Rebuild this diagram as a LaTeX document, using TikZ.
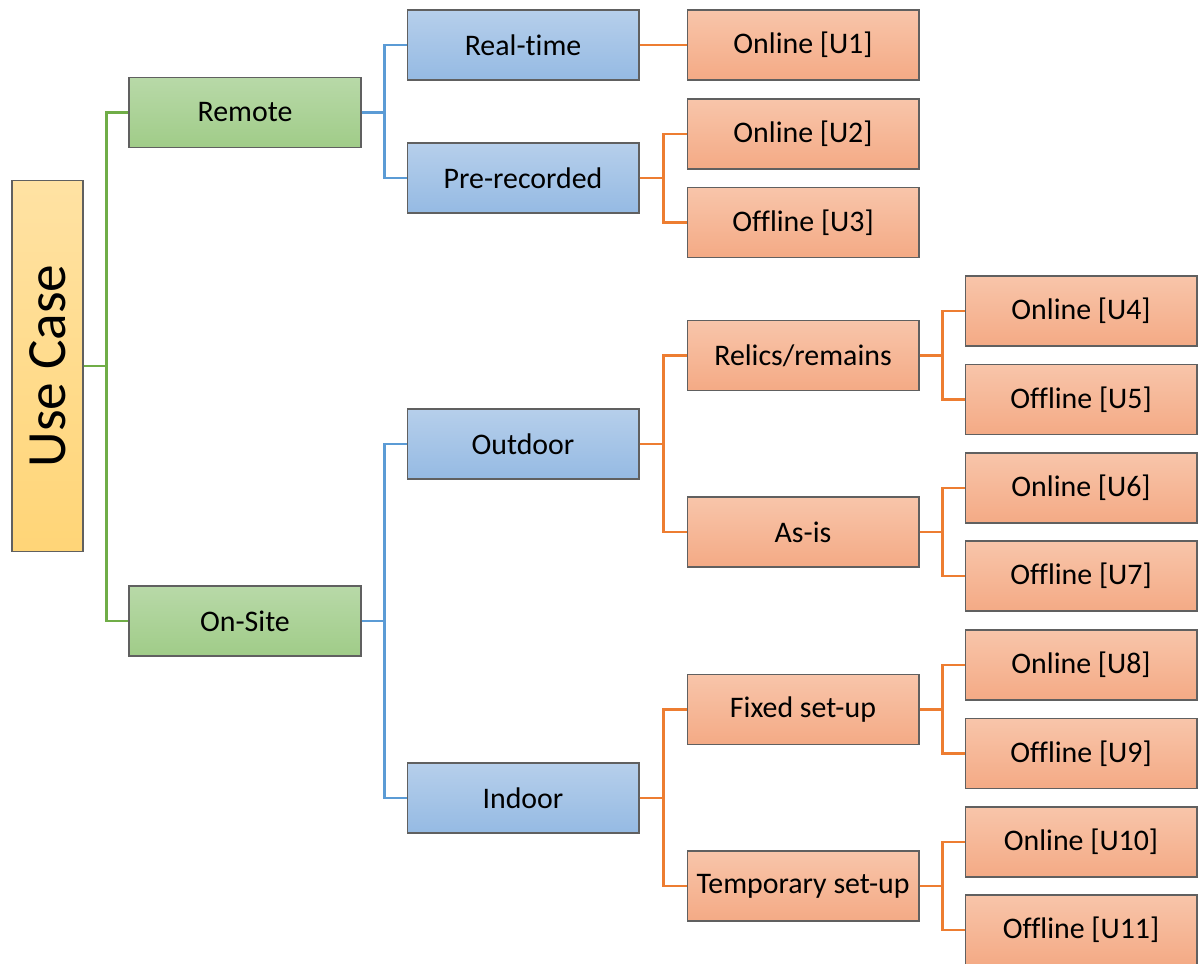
\documentclass[tikz,border=0pt]{standalone}
\usepackage{fontspec}
\setmainfont[Ligatures={NoCommon}]{Carlito}
\begin{document}
\definecolor{grnTop}{HTML}{B8D9A8}
\definecolor{grnBot}{HTML}{A0CC88}
\definecolor{grnLine}{HTML}{70AD47}
\definecolor{bluTop}{HTML}{B6CFEB}
\definecolor{bluBot}{HTML}{95BAE3}
\definecolor{bluLine}{HTML}{5B9BD5}
\definecolor{orgTop}{HTML}{F8C5AA}
\definecolor{orgBot}{HTML}{F4AA85}
\definecolor{orgLine}{HTML}{ED7D31}
\definecolor{ylwTop}{HTML}{FFE2A3}
\definecolor{ylwBot}{HTML}{FFD577}
\definecolor{boxEdge}{HTML}{606060}
\begin{tikzpicture}[x=0.02cm, y=-0.02cm,
  box/.style={draw=boxEdge, line width=0.6pt, minimum width=4.64cm, minimum height=1.4cm,
    inner sep=0pt, font=\fontsize{17}{20}\selectfont, anchor=center},
  gbox/.style={box, top color=grnTop, bottom color=grnBot},
  bbox/.style={box, top color=bluTop, bottom color=bluBot},
  obox/.style={box, top color=orgTop, bottom color=orgBot},
  ybox/.style={draw=boxEdge, line width=0.6pt, minimum width=1.42cm, minimum height=7.44cm,
    inner sep=0pt, top color=ylwTop, bottom color=ylwBot},
  link/.style={line width=1.3pt},
  glink/.style={link, draw=grnLine},
  blink/.style={link, draw=bluLine},
  olink/.style={link, draw=orgLine}]
\useasboundingbox (0,0) rectangle (1202,963);

% root
\node[ybox] (uc) at (47.5,366) {};
\node[rotate=90, font=\fontsize{31.5}{36}\selectfont] (uclabel) at (uc.center) {Use Case};

% level 1
\node[gbox] (remote) at (245,112.5) {Remote};
\node[gbox] (onsite) at (245,621) {On-Site};

% level 2
\node[bbox] (rt) at (523,45) {Real-time};
\node[bbox] (pre) at (523,178) {Pre-recorded};
\node[bbox] (out) at (523,444) {Outdoor};
\node[bbox] (ind) at (523,798) {Indoor};

% level 3
\node[obox] (u1) at (803,45) {Online [U1]};
\node[obox] (u2) at (803,134) {Online [U2]};
\node[obox] (u3) at (803,222.5) {Offline [U3]};
\node[obox] (rel) at (803,355.5) {Relics/remains};
\node[obox] (asis) at (803,532) {As-is};
\node[obox] (fix) at (803,709.5) {Fixed set-up};
\node[obox] (tmp) at (803,886) {Temporary set-up};

% level 4
\node[obox] (u4) at (1081,311) {Online [U4]};
\node[obox] (u5) at (1081,399.5) {Offline [U5]};
\node[obox] (u6) at (1081,488) {Online [U6]};
\node[obox] (u7) at (1081,576) {Offline [U7]};
\node[obox] (u8) at (1081,665) {Online [U8]};
\node[obox] (u9) at (1081,753.5) {Offline [U9]};
\node[obox] (u10) at (1081,842) {Online [U10]};
\node[obox] (u11) at (1081,930) {Offline [U11]};

% connectors
\draw[glink] (uc.east) -- ++(23,0) |- (remote.west);
\draw[glink] (uc.east) -- ++(23,0) |- (onsite.west);

\draw[blink] (remote.east) -- ++(23,0) |- (rt.west);
\draw[blink] (remote.east) -- ++(23,0) |- (pre.west);
\draw[blink] (onsite.east) -- ++(23,0) |- (out.west);
\draw[blink] (onsite.east) -- ++(23,0) |- (ind.west);

\draw[olink] (rt.east) -- (u1.west);
\draw[olink] (pre.east) -- ++(24,0) |- (u2.west);
\draw[olink] (pre.east) -- ++(24,0) |- (u3.west);
\draw[olink] (out.east) -- ++(24,0) |- (rel.west);
\draw[olink] (out.east) -- ++(24,0) |- (asis.west);
\draw[olink] (ind.east) -- ++(24,0) |- (fix.west);
\draw[olink] (ind.east) -- ++(24,0) |- (tmp.west);

\draw[olink] (rel.east) -- ++(23,0) |- (u4.west);
\draw[olink] (rel.east) -- ++(23,0) |- (u5.west);
\draw[olink] (asis.east) -- ++(23,0) |- (u6.west);
\draw[olink] (asis.east) -- ++(23,0) |- (u7.west);
\draw[olink] (fix.east) -- ++(23,0) |- (u8.west);
\draw[olink] (fix.east) -- ++(23,0) |- (u9.west);
\draw[olink] (tmp.east) -- ++(23,0) |- (u10.west);
\draw[olink] (tmp.east) -- ++(23,0) |- (u11.west);
\end{tikzpicture}
\end{document}
